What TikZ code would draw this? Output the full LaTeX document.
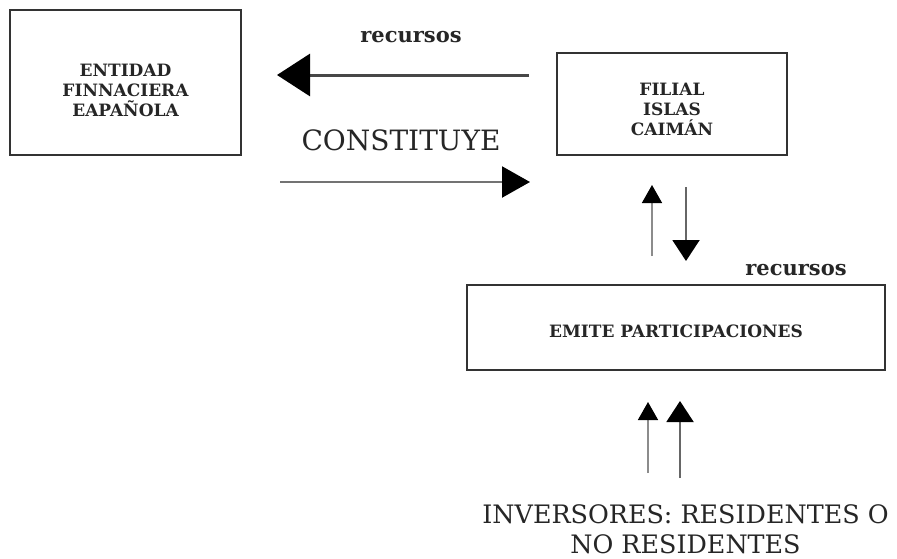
\documentclass[tikz,border=0pt]{standalone}
\usepackage{fontspec}
\setmainfont{DejaVu Serif}
\usetikzlibrary{arrows.meta}
\begin{document}
\begin{tikzpicture}[x=1pt,y=-1pt,
  box/.style={draw=black!80, line width=1.8pt, inner sep=0pt},
  boxtxt/.style={inner sep=0pt, align=center, text=black!85,
    font=\fontsize{17}{20}\selectfont\bfseries},
  lbl/.style={text=black!85, inner sep=0pt, anchor=base},
  bigarrow/.style={draw=black!72, line width=3pt, -{Triangle[length=33pt,width=42pt,color=black]}},
  midarrow/.style={draw=black!55, line width=2.2pt, -{Triangle[length=28pt,width=31pt,color=black]}},
  thinup/.style={draw=black!45, line width=1.5pt, -{Triangle[length=18pt,width=20pt,color=black]}},
  thickup/.style={draw=black!60, line width=2pt, -{Triangle[length=21pt,width=27pt,color=black]}}
]
\useasboundingbox (0,0) rectangle (897,558);
\fill[white] (0,0) rectangle (897,558);

% boxes
\node[box, minimum width=231pt, minimum height=145pt] (ent) at (125.5,82.5) {};
\node[boxtxt] (entt) at ([yshift=-8pt]ent.center) {ENTIDAD\\FINNACIERA\\EAPAÑOLA};
\node[box, minimum width=230pt, minimum height=102pt] (fil) at (672,104) {};
\node[boxtxt] (filt) at ([yshift=-5pt]fil.center) {FILIAL\\ISLAS\\CAIMÁN};
\node[box, minimum width=418pt, minimum height=85pt] (emi) at (676,327.5) {};
\node[boxtxt] (emit) at ([yshift=-4pt]emi.center) {EMITE PARTICIPACIONES};

% labels
\node[lbl, font=\fontsize{21}{24}\selectfont\bfseries] (rec1) at (411,42) {recursos};
\node[lbl, font=\fontsize{28}{32}\selectfont] (cons) at (401,150) {CONSTITUYE};
\node[lbl, font=\fontsize{21}{24}\selectfont\bfseries] (rec2) at (796,275) {recursos};
\node[text=black!85, inner sep=0pt, align=center, anchor=north,
  font=\fontsize{25.4}{30}\selectfont] (inv) at (685.5,504)
  {INVERSORES: RESIDENTES O\\NO RESIDENTES};

% arrow end points
\coordinate (a1s) at (529,75);   \coordinate (a1e) at (277,75);
\coordinate (a2s) at (280,182);  \coordinate (a2e) at (530,182);
\coordinate (a3s) at (652,256);  \coordinate (a3e) at (652,185);
\coordinate (a4s) at (686,187);  \coordinate (a4e) at (686,261);
\coordinate (a5s) at (648,473);  \coordinate (a5e) at (648,402);
\coordinate (a6s) at (680,478);  \coordinate (a6e) at (680,401);

\draw[bigarrow] (a1s) -- (a1e);
\draw[midarrow] (a2s) -- (a2e);
\draw[thinup] (a3s) -- (a3e);
\draw[thickup] (a4s) -- (a4e);
\draw[thinup] (a5s) -- (a5e);
\draw[thickup] (a6s) -- (a6e);
\end{tikzpicture}
\end{document}
